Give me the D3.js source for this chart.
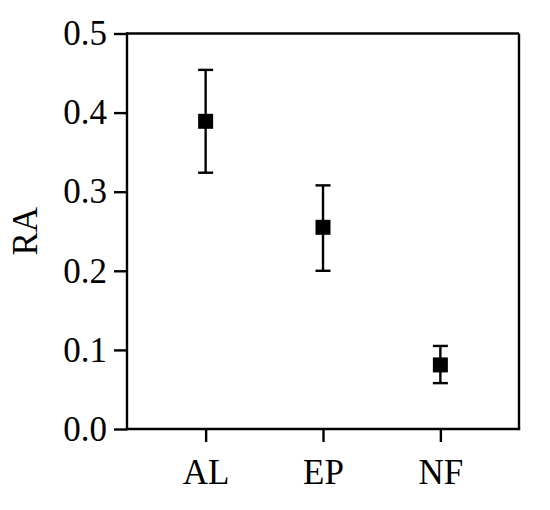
<!DOCTYPE html>
<html>
<head>
<meta charset="utf-8">
<script src="https://cdn.jsdelivr.net/npm/d3@7"></script>
<style>
  html, body { margin: 0; padding: 0; background: #fff; }
  svg { display: block; }
</style>
</head>
<body>
<svg id="chart" width="550" height="510"></svg>
<script>
const categories = ["AL", "EP", "NF"];
const means = [0.389, 0.255, 0.081];
const upper = [0.454, 0.308, 0.105];
const lower = [0.324, 0.200, 0.058];
const yTicks = [0.0, 0.1, 0.2, 0.3, 0.4, 0.5];
const yLabel = "RA";

const W = 550, H = 510;
const margin = { left: 127, top: 33.5, right: 31, bottom: 81 };
const pw = W - margin.left - margin.right;
const ph = H - margin.top - margin.bottom;
const font = "'Liberation Serif', serif";
const fs = "35px";
const lw = 2.4;

const svg = d3.select("#chart");
const g = svg.append("g").attr("transform", `translate(${margin.left},${margin.top})`);

const x = d3.scalePoint().domain(categories).range([0, pw]).padding(0.67);
const y = d3.scaleLinear().domain([0, 0.5]).range([ph, 0]);

// frame top & right
g.append("line").attr("x1", 0).attr("x2", pw).attr("y1", 0).attr("y2", 0)
  .attr("stroke", "#000").attr("stroke-width", lw);
g.append("line").attr("x1", pw).attr("x2", pw).attr("y1", 0).attr("y2", ph)
  .attr("stroke", "#000").attr("stroke-width", lw);

const yAxis = g.append("g")
  .call(d3.axisLeft(y).tickValues(yTicks).tickFormat(d3.format(".1f")).tickSize(13).tickSizeOuter(0).tickPadding(7));
const xAxis = g.append("g").attr("transform", `translate(0,${ph})`)
  .call(d3.axisBottom(x).tickSize(13).tickSizeOuter(0).tickPadding(17));

[yAxis, xAxis].forEach(a => {
  a.select(".domain").attr("stroke", "#000").attr("stroke-width", lw);
  a.selectAll(".tick line").attr("stroke", "#000").attr("stroke-width", lw);
  a.selectAll(".tick text").attr("fill", "#000").style("font-family", font).style("font-size", fs);
});
yAxis.select(".domain").attr("d", `M0,${ph + 1.2}V-1.2`);
xAxis.select(".domain").attr("d", `M-1.2,0H${pw + 1.2}`);

// y label
svg.append("text")
  .attr("transform", `translate(37,${margin.top + ph / 2}) rotate(-90)`)
  .attr("text-anchor", "middle")
  .style("font-family", font).style("font-size", fs)
  .text(yLabel);

// error bars
const data = categories.map((c, i) => ({ c, m: means[i], hi: upper[i], lo: lower[i] }));
const eb = g.append("g").selectAll("g").data(data).join("g");
eb.append("line")
  .attr("x1", d => x(d.c)).attr("x2", d => x(d.c))
  .attr("y1", d => y(d.hi)).attr("y2", d => y(d.lo))
  .attr("stroke", "#000").attr("stroke-width", lw);
eb.append("line")
  .attr("x1", d => x(d.c) - 7.5).attr("x2", d => x(d.c) + 7.5)
  .attr("y1", d => y(d.hi)).attr("y2", d => y(d.hi))
  .attr("stroke", "#000").attr("stroke-width", lw);
eb.append("line")
  .attr("x1", d => x(d.c) - 7.5).attr("x2", d => x(d.c) + 7.5)
  .attr("y1", d => y(d.lo)).attr("y2", d => y(d.lo))
  .attr("stroke", "#000").attr("stroke-width", lw);
eb.append("rect")
  .attr("x", d => x(d.c) - 7.5).attr("y", d => y(d.m) - 7.5)
  .attr("width", 15).attr("height", 15)
  .attr("fill", "#000");
</script>
</body>
</html>
